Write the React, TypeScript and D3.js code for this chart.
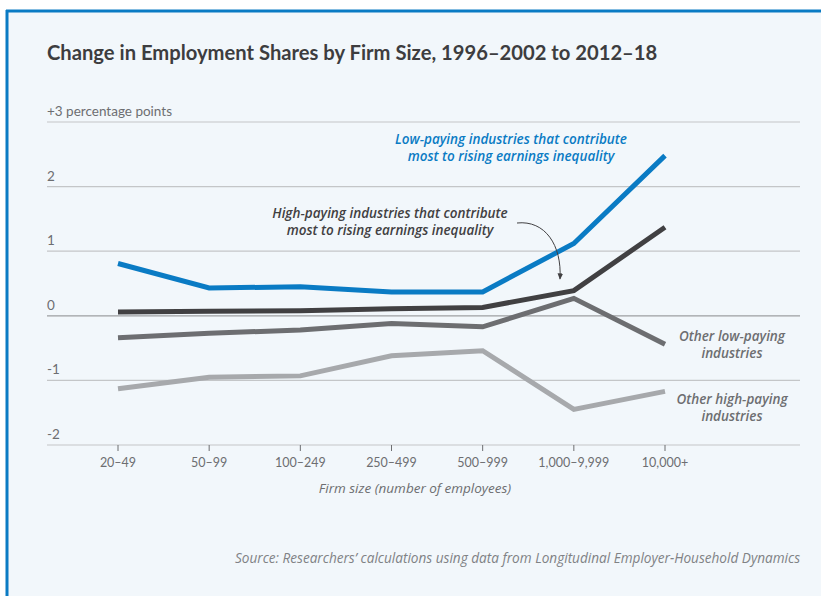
import React from "react";
import * as d3 from "d3";

const categories = ["20–49", "50–99", "100–249", "250–499", "500–999", "1,000–9,999", "10,000+"];
const lowPayContrib = [0.81, 0.43, 0.45, 0.37, 0.37, 1.12, 2.48];
const highPayContrib = [0.06, 0.07, 0.08, 0.11, 0.13, 0.39, 1.37];
const otherLowPay = [-0.34, -0.27, -0.22, -0.12, -0.17, 0.27, -0.44];
const otherHighPay = [-1.13, -0.95, -0.93, -0.62, -0.54, -1.45, -1.17];
const yTicks = [3, 2, 1, 0, -1, -2];
const yTickLabels = ["+3 percentage points", "2", "1", "0", "-1", "-2"];

const W = 821;
const H = 596;
const FONT = "Lato, 'Open Sans', sans-serif";
const FONT2 = "'Open Sans', Lato, sans-serif";

export default function App() {
  const x = d3.scalePoint<string>().domain(categories).range([118, 665]);
  const y = d3.scaleLinear().domain([-2, 3]).range([445, 122]);
  const line = d3
    .line<number>()
    .x((_, i) => x(categories[i]) as number)
    .y((d) => y(d));

  const series = [
    { data: otherHighPay, color: "#a7a9ac" },
    { data: otherLowPay, color: "#6d6e71" },
    { data: highPayContrib, color: "#414042" },
    { data: lowPayContrib, color: "#0a7bc4" },
  ];

  return (
    <svg width={W} height={H} style={{ position: "absolute", left: 0, top: 0 }} fontFamily={FONT}>
      <rect x={0} y={0} width={W} height={H} fill="#ffffff" />
      <rect x={6} y={10} width={W - 6} height={H - 10} fill="#f2f7fb" />
      <line x1={6} y1={11} x2={W} y2={11} stroke="#0a7bc4" strokeWidth={3} />
      <line x1={7} y1={10} x2={7} y2={H} stroke="#0a7bc4" strokeWidth={3} />

      <text x={47} y={60} fontSize={20.2} fontWeight={700} fill="#3d3d3f">
        Change in Employment Shares by Firm Size, 1996–2002 to 2012–18
      </text>

      {yTicks.map((t, i) => (
        <g key={t}>
          <line x1={47} x2={800} y1={y(t)} y2={y(t)} stroke={t === 0 ? "#9d9fa2" : "#c4c6c8"} strokeWidth={1.2} />
          <text x={47} y={y(t) - 6} fontSize={13.5} fill="#6d6e71">
            {yTickLabels[i]}
          </text>
        </g>
      ))}

      {categories.map((c) => (
        <g key={c}>
          <line x1={x(c)} x2={x(c)} y1={445} y2={451} stroke="#6d6e71" strokeWidth={1} />
          <text x={x(c)} y={467} fontSize={12.5} textAnchor="middle" fill="#6d6e71">
            {c}
          </text>
        </g>
      ))}

      <text x={415} y={493} fontSize={13.5} fontStyle="italic" textAnchor="middle" fill="#6d6e71" fontFamily={FONT2}>
        Firm size (number of employees)
      </text>

      {series.map((s, i) => (
        <path key={i} d={line(s.data) || ""} fill="none" stroke={s.color} strokeWidth={5} strokeLinejoin="miter" />
      ))}

      <g fontStyle="italic" fontWeight={600} fontSize={13.5} textAnchor="middle" fontFamily={FONT2}>
        <text x={511} y={144} fill="#0a7bc4">Low-paying industries that contribute</text>
        <text x={511} y={161} fill="#0a7bc4">most to rising earnings inequality</text>
        <text x={390} y={218} fill="#414042">High-paying industries that contribute</text>
        <text x={390} y={235} fill="#414042">most to rising earnings inequality</text>
        <text x={732} y={341} fill="#6d6e71">Other low-paying</text>
        <text x={732} y={358} fill="#6d6e71">industries</text>
        <text x={732} y={404} fill="#6d6e71">Other high-paying</text>
        <text x={732} y={421} fill="#6d6e71">industries</text>
      </g>

      <defs>
        <marker id="arr" viewBox="0 0 10 10" refX={8} refY={5} markerWidth={7} markerHeight={7} orient="auto">
          <path d="M0,1 L9,5 L0,9 Z" fill="#414042" />
        </marker>
      </defs>
      <path d="M517,223 C545,220 562,245 560,279" fill="none" stroke="#414042" strokeWidth={1} markerEnd="url(#arr)" />

      <text x={800} y={563} fontSize={13.6} fontStyle="italic" textAnchor="end" fill="#808285" fontFamily={FONT2}>
        Source: Researchers’ calculations using data from Longitudinal Employer-Household Dynamics
      </text>
    </svg>
  );
}
